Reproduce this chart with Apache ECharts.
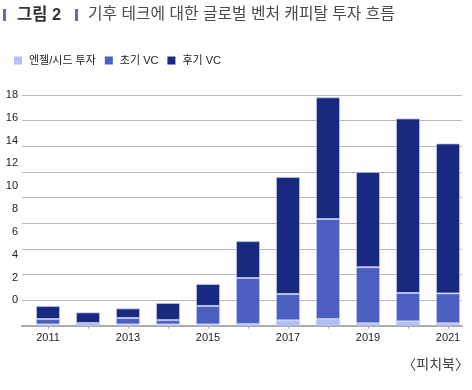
<!DOCTYPE html>
<html><head><meta charset="utf-8">
<script src="https://cdn.jsdelivr.net/npm/echarts@6/dist/echarts.min.js"></script>
<style>html,body{margin:0;padding:0;background:#fff}#c{width:472px;height:390px}</style>
</head><body><div id="c"></div>
<script>
const years = ['2011','2012','2013','2014','2015','2016','2017','2018','2019','2020','2021'];
const angelSeed = [0.10, 0.05, 0.10, 0.10, 0.10, 0.13, 0.42, 0.52, 0.19, 0.34, 0.19];
const earlyVC   = [0.42, 0.16, 0.50, 0.34, 1.44, 3.59, 2.05, 7.80, 4.38, 2.21, 2.33];
const lateVC    = [1.02, 0.83, 0.75, 1.33, 1.71, 2.88, 9.14, 9.50, 7.43, 13.62, 11.70];
const seriesNames = ['엔젤/시드 투자', '초기 VC', '후기 VC'];
const yTicks = {min: 0, max: 18, interval: 2};

const FONT = "'Liberation Sans', 'Noto Sans CJK KR', sans-serif";
const CJK = "'Noto Sans CJK KR', sans-serif";
const colors = ['#b3befa', '#4b5fc0', '#18297f'];
const chart = echarts.init(document.getElementById('c'), null, {renderer: 'canvas'});
const barItem = c => ({color: c, borderColor: 'rgba(190,198,240,0.75)', borderWidth: 1});
chart.setOption({
  animation: false,
  textStyle: {fontFamily: FONT},
  graphic: [
    {type: 'rect', shape: {x: 3, y: 9, width: 3, height: 12}, style: {fill: '#7a5fae'}},
    {type: 'text', x: 17, y: 15, style: {text: '그림 2', font: "bold 16.5px " + FONT, fill: '#333', textVerticalAlign: 'middle'}},
    {type: 'rect', shape: {x: 75, y: 9, width: 3, height: 12}, style: {fill: '#7a5fae'}},
    {type: 'text', x: 88, y: 15, style: {text: '기후 테크에 대한 글로벌 벤처 캐피탈 투자 흐름', font: "15.8px " + FONT, fill: '#4a4a4a', textVerticalAlign: 'middle'}},
    {type: 'text', x: 469, y: 364, style: {text: '〈피치북〉', font: "14px " + CJK, fill: '#444', textAlign: 'right', textVerticalAlign: 'middle'}}
  ],
  legend: {
    left: 9, top: 50, itemWidth: 8, itemHeight: 8, itemGap: 9, icon: 'rect',
    itemStyle: {borderWidth: 0},
    data: seriesNames,
    textStyle: {fontSize: 11, color: '#222', fontFamily: FONT, padding: [0, 0, 0, 2]}
  },
  grid: [
    {left: 28, right: 4, top: 95, bottom: 64.3},
    {left: 22, right: 10, top: 95, bottom: 64.3},
    {left: 22, right: 10, top: 95, bottom: 89.7}
  ],
  xAxis: [
    {type: 'category', gridIndex: 0, data: years,
     axisLine: {show: false},
     axisTick: {show: true, alignWithLabel: true, interval: 0, length: 3, lineStyle: {color: '#aaa'}},
     axisLabel: {interval: 1, margin: 7, fontSize: 11, color: '#222', fontFamily: FONT}},
    {type: 'category', gridIndex: 1, data: years, axisLine: {show: true, lineStyle: {color: '#aaa', width: 2}},
     axisTick: {show: false}, axisLabel: {show: false}},
    {type: 'category', gridIndex: 2, data: years, show: false}
  ],
  yAxis: [
    {type: 'value', gridIndex: 0, min: yTicks.min, max: yTicks.max, interval: yTicks.interval, show: false, splitLine: {show: false}},
    {type: 'value', gridIndex: 1, min: yTicks.min, max: yTicks.max, interval: yTicks.interval,
     axisLabel: {show: false}, axisLine: {show: false}, axisTick: {show: false},
     splitLine: {show: true, lineStyle: {color: '#b8b8b8', width: 1}}},
    {type: 'value', gridIndex: 2, min: yTicks.min, max: yTicks.max, interval: yTicks.interval,
     axisLine: {show: false}, axisTick: {show: false}, splitLine: {show: false},
     axisLabel: {margin: 4, fontSize: 11, color: '#222', fontFamily: FONT}}
  ],
  series: [
    {name: seriesNames[0], type: 'bar', stack: 'a', xAxisIndex: 0, yAxisIndex: 0, barWidth: 24, data: angelSeed, itemStyle: barItem(colors[0])},
    {name: seriesNames[1], type: 'bar', stack: 'a', xAxisIndex: 0, yAxisIndex: 0, barWidth: 24, data: earlyVC, itemStyle: barItem(colors[1])},
    {name: seriesNames[2], type: 'bar', stack: 'a', xAxisIndex: 0, yAxisIndex: 0, barWidth: 24, data: lateVC, itemStyle: barItem(colors[2])}
  ]
});
</script></body></html>
